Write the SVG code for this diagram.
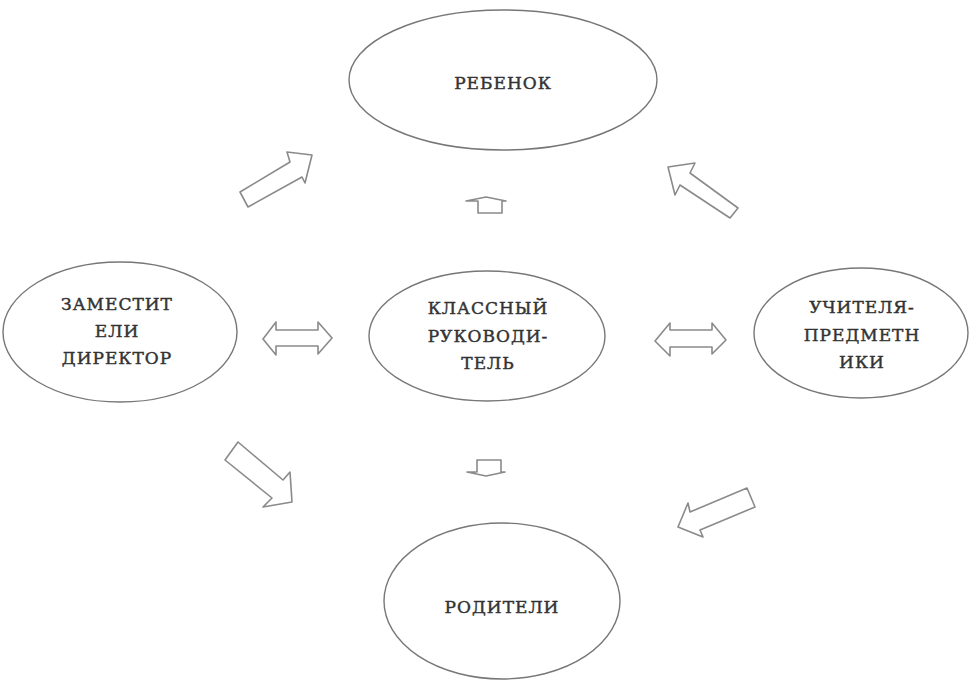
<svg xmlns="http://www.w3.org/2000/svg" width="970" height="682" viewBox="0 0 970 682">
<style>
.node ellipse{fill:#fff;stroke:#777;stroke-width:1.4}
.node text{font-family:'DejaVu Serif','Liberation Serif',serif;font-size:17px;font-weight:normal;fill:#333;text-anchor:middle;letter-spacing:1px;stroke:#333;stroke-width:0.45}
.arr polygon{fill:#fff;stroke:#8a8a8a;stroke-width:1.6;stroke-linejoin:round}
</style>
<rect width="970" height="682" fill="#fff"/>
<g id="rebenok" class="node">
<ellipse cx="503" cy="80" rx="154" ry="70"/>
<text x="503" y="89">РЕБЕНОК</text>
</g>
<g id="zamestiteli" class="node">
<ellipse cx="120" cy="332" rx="117" ry="70"/>
<text x="117" y="310">ЗАМЕСТИТ</text>
<text x="117" y="337">ЕЛИ</text>
<text x="117" y="364">ДИРЕКТОР</text>
</g>
<g id="klassny" class="node">
<ellipse cx="487" cy="336" rx="118" ry="65"/>
<text x="488" y="314">КЛАССНЫЙ</text>
<text x="488" y="342">РУКОВОДИ-</text>
<text x="488" y="369">ТЕЛЬ</text>
</g>
<g id="uchitelya" class="node">
<ellipse cx="861" cy="333" rx="107" ry="65"/>
<text x="862" y="313">УЧИТЕЛЯ-</text>
<text x="862" y="341">ПРЕДМЕТН</text>
<text x="862" y="368">ИКИ</text>
</g>
<g id="roditeli" class="node">
<ellipse cx="502" cy="601" rx="118" ry="78"/>
<text x="502" y="613">РОДИТЕЛИ</text>
</g>
<g id="connectors" class="arr">
<polygon points="240,192 290,162 287,152 312,155 305,183 302,177 248,207"/>
<polygon points="668,167 695,163 690,173 738,208 730,218 680,185 675,195"/>
<polygon points="466,201 486,197 506,201 502,201 502,213 478,213 478,201"/>
<polygon points="263,339 276,322 276,330 318,330 318,322 332,338 318,354 318,346 276,346 276,355"/>
<polygon points="655,341 670,323 670,330 712,330 712,323 726,340 712,354 712,347 670,347 670,356"/>
<polygon points="238,442 283,480 290,472 292,502 263,507 272,498 225,460"/>
<polygon points="747,488 755,507 700,530 703,537 678,527 688,503 690,512"/>
<polygon points="467,472 477,472 477,460 501,460 501,472 505,472 486,476"/>
</g>
</svg>
